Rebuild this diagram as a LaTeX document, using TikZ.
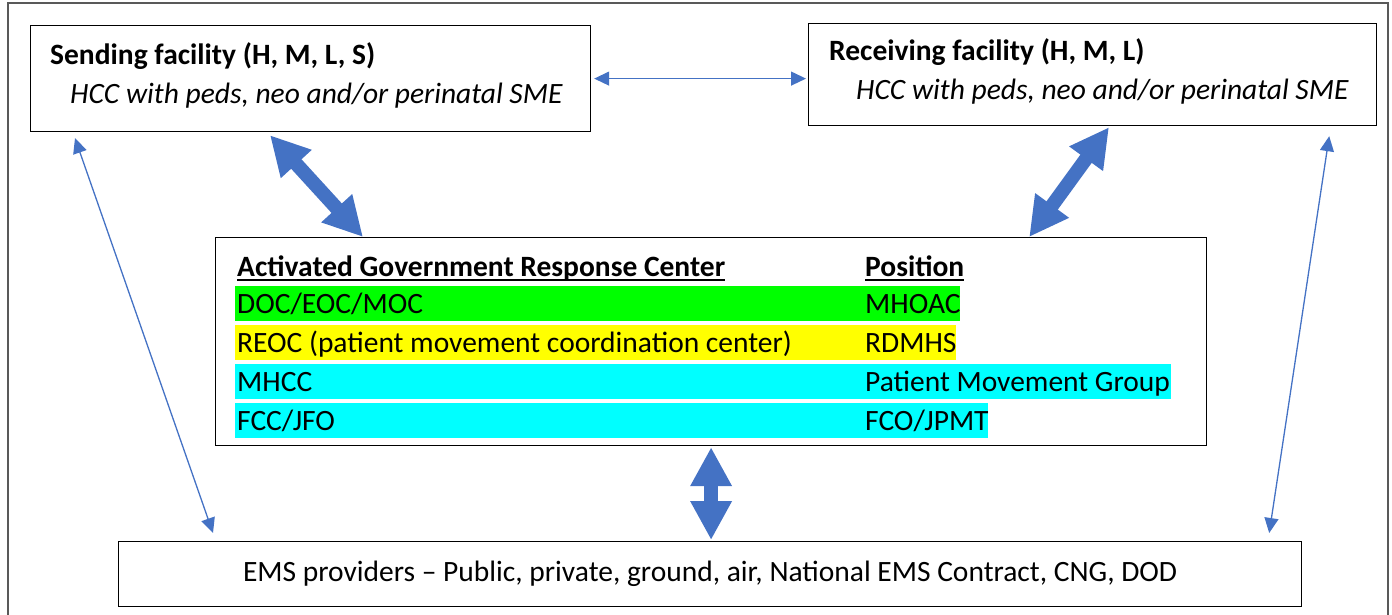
\documentclass[tikz,border=0pt]{standalone}
\usepackage{fontspec}
\setmainfont{Carlito}
\frenchspacing
\usetikzlibrary{arrows.meta}
\definecolor{arrowblue}{HTML}{4472C4}
\definecolor{framegray}{HTML}{595959}
\definecolor{rowgreen}{HTML}{00FF00}
\definecolor{rowyellow}{HTML}{FFFF00}
\definecolor{rowcyan}{HTML}{00FFFF}
\tikzset{
  box/.style={draw, line width=1.2pt, inner sep=0pt, anchor=north west},
  thinarrow/.style={arrowblue, line width=1.3pt, {Triangle[length=15pt,width=14pt]}-{Triangle[length=15pt,width=14pt]}},
  fatarrow/.style={arrowblue, line width=14pt, {Triangle[length=39pt,width=39pt]}-{Triangle[length=39pt,width=39pt]}},
  cell/.style={anchor=base west, inner sep=0pt}
}

\begin{document}
\begin{tikzpicture}[x=1pt, y=-1pt, font=\fontsize{29.5pt}{39pt}\selectfont]
	\useasboundingbox (0,0) rectangle (1392,615);
	\draw[framegray, line width=2pt] (8,615) |- (1388,3) -- (1388,615);

	% facilities
	\node[box, minimum width=560pt, minimum height=106pt] (sending) at (30,25) {};
	\node[cell] (sendtitle) at (50,65) {\textbf{Sending facility (H, M, L, S)}};
	\node[cell] (sendsme) at (70,104) {\textit{HCC with peds, neo and/or perinatal SME}};
	\node[box, minimum width=568pt, minimum height=102pt] (receiving) at (808,23) {};
	\node[cell] (recvtitle) at (829,61) {\textbf{Receiving facility (H, M, L)}};
	\node[cell] (recvsme) at (856,100) {\textit{HCC with peds, neo and/or perinatal SME}};

	% response center table
	\node[box, minimum width=991pt, minimum height=208pt] (grc) at (215,237) {};
	\node[cell] (hdrcenter) at (237,276) {\textbf{Activated Government Response Center}};
	\node[cell] (hdrpos) at (865,276) {\textbf{Position}};
	\draw[line width=1.8pt] ([yshift=-4pt]hdrcenter.base west) -- ([yshift=-4pt]hdrcenter.base east);
	\draw[line width=1.8pt] ([yshift=-4pt]hdrpos.base west) -- ([yshift=-4pt]hdrpos.base east);
	\foreach \y/\col/\xr/\lt/\rt in {313/rowgreen/960/{DOC/EOC/MOC}/MHOAC,
			352/rowyellow/956/REOC (patient movement coordination center)/RDMHS,
			391/rowcyan/1171/MHCC/Patient Movement Group,
			430/rowcyan/988/{FCC/JFO}/{FCO/JPMT}}{
		\fill[\col] (235,\y-27) rectangle (\xr,\y+8);
		\node[cell] (org\y) at (237,\y) {\lt};
		\node[cell] (pos\y) at (865,\y) {\rt};
	}

	% ems
	\node[box, minimum width=1183pt, minimum height=65pt] (ems) at (118,541)
		{EMS providers -- Public, private, ground, air, National EMS Contract, CNG, DOD};

	% connectors
	\draw[thinarrow, shorten <=3pt, shorten >=2pt] (sending.east) -- (sending.east -| receiving.west);
	\draw[thinarrow] ([xshift=45pt,yshift=-6pt]sending.south west) -- ([xshift=95pt,yshift=8pt]ems.north west);
	\draw[thinarrow] ([xshift=-48pt,yshift=-10pt]receiving.south east) -- ([xshift=-33pt,yshift=8pt]ems.north east);
	\draw[fatarrow] ([xshift=240pt,yshift=-3pt]sending.south west) -- ([xshift=148pt]grc.north west);
	\draw[fatarrow] ([xshift=301pt,yshift=-1pt]receiving.south west) -- ([xshift=-178pt]grc.north east);
	\draw[fatarrow, shorten <=1pt, shorten >=1pt] (grc.south) -- (grc.south |- ems.north);
\end{tikzpicture}
\end{document}
